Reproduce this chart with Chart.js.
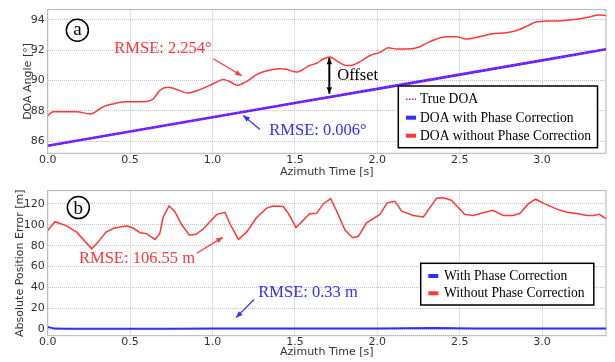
<!DOCTYPE html>
<html>
<head>
<meta charset="utf-8">
<script src="https://cdn.jsdelivr.net/npm/chart.js@4.4.0/dist/chart.umd.min.js"></script>
<style>
body { margin: 0; background: #fff; width: 615px; height: 362px; overflow: hidden; }
canvas { position: absolute; left: 0; }
#doaChart { top: 0; }
#errChart { top: 181px; }
</style>
</head>
<body>
<canvas id="doaChart" width="615" height="181"></canvas>
<canvas id="errChart" width="615" height="181"></canvas>
<script>
// tick values
var xTicks = [0, 0.5, 1.0, 1.5, 2.0, 2.5, 3.0];
var doaTicks = [86, 88, 90, 92, 94];
var errTicks = [0, 20, 40, 60, 80, 100, 120];

// (a) DOA angle
var doaTime = [0, 0.034, 0.176, 0.257, 0.337, 0.42, 0.48, 0.6, 0.64, 0.68,
  0.73, 0.77, 0.85, 0.92, 1.005, 1.066, 1.106, 1.15, 1.21, 1.27,
  1.33, 1.41, 1.45, 1.507, 1.593, 1.632, 1.67, 1.713, 1.754, 1.814,
  1.854, 1.905, 1.956, 2.016, 2.067, 2.117, 2.18, 2.26, 2.3, 2.36,
  2.42, 2.48, 2.54, 2.62, 2.70, 2.785, 2.846, 2.906, 2.967, 3.03,
  3.11, 3.23, 3.29, 3.34, 3.388];
var doaWithout = [87.69, 87.94, 87.94, 87.79, 88.27, 88.52, 88.6, 88.62, 88.78, 89.34,
  89.55, 89.46, 89.18, 89.38, 89.79, 90.06, 89.92, 89.69, 89.96, 90.41,
  90.64, 90.78, 90.74, 90.56, 91.01, 91.14, 91.4, 91.55, 91.3, 90.99,
  91.03, 91.3, 91.65, 91.86, 92.16, 92.08, 92.08, 92.23, 92.47, 92.74,
  92.89, 92.89, 92.74, 92.89, 93.09, 93.15, 93.3, 93.57, 93.88, 93.92,
  93.94, 94.08, 94.19, 94.33, 94.29];
var lineTime = [0, 0.5, 1.0, 1.5, 2.0, 2.5, 3.0, 3.388];
var trueDoa = [85.69, 86.63, 87.57, 88.51, 89.45, 90.39, 91.33, 92.06];
var doaWith = [85.69, 86.63, 87.57, 88.51, 89.45, 90.39, 91.33, 92.06];

// (b) absolute position error
var errTime = [0, 0.044, 0.115, 0.176, 0.267, 0.30, 0.354, 0.40, 0.48, 0.52,
  0.56, 0.6, 0.651, 0.68, 0.70, 0.736, 0.77, 0.81, 0.86, 0.90,
  0.944, 1.026, 1.076, 1.106, 1.157, 1.207, 1.268, 1.329, 1.369, 1.43,
  1.46, 1.507, 1.59, 1.632, 1.672, 1.717, 1.754, 1.804, 1.85, 1.885,
  1.935, 2.016, 2.06, 2.107, 2.148, 2.218, 2.28, 2.36, 2.40, 2.45,
  2.53, 2.58, 2.70, 2.765, 2.825, 2.866, 2.916, 2.96, 3.017, 3.09,
  3.15, 3.22, 3.27, 3.31, 3.347, 3.388];
var errWithout = [94.5, 103, 99, 93, 77, 82.5, 93, 96.7, 99, 96.7,
  92.5, 91.6, 86, 91.6, 107, 118, 113, 101, 90, 91,
  96, 110, 112, 101, 86, 93, 107, 116, 118, 117.5,
  111, 97.5, 110.6, 111, 120, 125, 113, 95, 87.7, 89,
  102, 110, 121, 122.5, 113, 109, 107.5, 125.5, 126, 123.5,
  110, 109, 114, 109, 109, 111, 120, 124.5, 120, 115,
  112, 110.5, 109, 109, 110, 106];
var errWithTime = [0, 0.044, 0.5, 1.0, 1.5, 2.0, 2.35, 2.6, 3.0, 3.388];
var errWith = [2.3, 0.7, 0.6, 0.7, 0.8, 0.7, 1.3, 0.8, 0.8, 0.7];

var RED = '#ff3838';
var BLUE = '#2f2fff';
var MAGENTA = '#ff00ff';
var tickFont = {family: 'DejaVu Sans', size: 11};
var SERIF = '"Liberation Serif", "Times New Roman", serif';

function pts(xs, ys) {
  return xs.map(function (x, i) { return {x: x, y: ys[i]}; });
}

function xAxis(height, padBottom) {
  return {
    type: 'linear', min: 0, max: 3.388,
    afterBuildTicks: function (s) { s.ticks = xTicks.map(function (v) { return {value: v}; }); },
    afterFit: function (s) { s.height = height; },
    ticks: {font: tickFont, color: '#333', padding: 0, maxRotation: 0, autoSkip: false,
      callback: function (v) { return v.toFixed(1); }},
    grid: {color: '#c4c4c4', drawTicks: false},
    border: {display: false, dash: [1, 1]},
    title: {display: true, text: 'Azimuth Time [s]', font: tickFont, color: '#333',
      padding: {top: 0, bottom: padBottom}}
  };
}

function yAxis(min, max, tickVals, label, padLeft) {
  return {
    min: min, max: max,
    afterBuildTicks: function (s) { s.ticks = tickVals.map(function (v) { return {value: v}; }); },
    afterFit: function (s) { s.width = 47.7; },
    ticks: {font: tickFont, color: '#333', padding: 3},
    grid: {color: '#c4c4c4', drawTicks: false},
    border: {display: false, dash: [1, 1]},
    title: {display: true, text: label, font: tickFont, color: '#333',
      padding: {top: padLeft, bottom: 0}}
  };
}

function frame(chart) {
  var a = chart.chartArea, ctx = chart.ctx;
  ctx.save();
  ctx.strokeStyle = '#b4b4b4';
  ctx.lineWidth = 1;
  ctx.strokeRect(a.left, a.top, a.right - a.left, a.bottom - a.top);
  ctx.restore();
}

function label(ctx, str, x, y, color, size) {
  ctx.save();
  ctx.fillStyle = color;
  ctx.font = size + 'px ' + SERIF;
  ctx.textAlign = 'left';
  ctx.textBaseline = 'middle';
  ctx.fillText(str, x, y);
  ctx.restore();
}

function head(ctx, x1, y1, x2, y2, len) {
  var ang = Math.atan2(y2 - y1, x2 - x1);
  ctx.beginPath();
  ctx.moveTo(x2, y2);
  ctx.lineTo(x2 - len * Math.cos(ang - 0.4), y2 - len * Math.sin(ang - 0.4));
  ctx.lineTo(x2 - len * Math.cos(ang + 0.4), y2 - len * Math.sin(ang + 0.4));
  ctx.closePath();
  ctx.fill();
}

function arrow(ctx, x1, y1, x2, y2, color, w, both) {
  ctx.save();
  ctx.strokeStyle = color;
  ctx.fillStyle = color;
  ctx.lineWidth = w;
  ctx.beginPath();
  ctx.moveTo(x1, y1);
  ctx.lineTo(x2, y2);
  ctx.stroke();
  head(ctx, x1, y1, x2, y2, 7);
  if (both) head(ctx, x2, y2, x1, y1, 7);
  ctx.restore();
}

function circled(ctx, cx, cy, ch, drop) {
  ctx.save();
  ctx.strokeStyle = '#000';
  ctx.lineWidth = 1.5;
  ctx.beginPath();
  ctx.arc(cx, cy, 11, 0, Math.PI * 2);
  ctx.stroke();
  ctx.fillStyle = '#000';
  ctx.font = '19px ' + SERIF;
  ctx.textAlign = 'center';
  ctx.textBaseline = 'alphabetic';
  ctx.fillText(ch, cx, cy + drop);
  ctx.restore();
}

function legendBox(ctx, box, items, swX, txtX, rows) {
  ctx.save();
  ctx.fillStyle = '#fff';
  ctx.fillRect(box[0], box[1], box[2] - box[0], box[3] - box[1]);
  ctx.strokeStyle = '#000';
  ctx.lineWidth = 1.5;
  ctx.strokeRect(box[0], box[1], box[2] - box[0], box[3] - box[1]);
  ctx.font = '13.6px ' + SERIF;
  ctx.textBaseline = 'middle';
  items.forEach(function (it, i) {
    var y = rows[i];
    if (it.dotted) {
      ctx.strokeStyle = it.color;
      ctx.lineWidth = 1.5;
      ctx.setLineDash([1.5, 1.5]);
      ctx.beginPath();
      ctx.moveTo(swX, y);
      ctx.lineTo(swX + 10, y);
      ctx.stroke();
      ctx.setLineDash([]);
    } else {
      ctx.fillStyle = it.color;
      ctx.fillRect(swX, y - 2, 10, 4);
    }
    ctx.fillStyle = '#000';
    ctx.fillText(it.text, txtX, y + 0.5);
  });
  ctx.restore();
}

var doaNotes = {
  id: 'doaNotes',
  beforeDatasetsDraw: frame,
  afterDatasetsDraw: function (chart) {
    var ctx = chart.ctx, sx = chart.scales.x, sy = chart.scales.y;
    function X(t) { return sx.getPixelForValue(t); }
    function Y(v) { return sy.getPixelForValue(v); }
    circled(ctx, X(0.18), Y(93.32), 'a', 4.3);
    label(ctx, 'RMSE: 2.254°', X(0.404), Y(92.12), RED, 16.5);
    arrow(ctx, X(1.005), Y(91.44), X(1.177), Y(90.31), RED, 1.2, false);
    label(ctx, 'RMSE: 0.006°', X(1.345), Y(86.66), BLUE, 16.5);
    arrow(ctx, X(1.288), Y(86.77), X(1.187), Y(87.69), BLUE, 1.2, false);
    label(ctx, 'Offset', X(1.757), Y(90.33), '#000', 16.5);
    arrow(ctx, X(1.709), Y(89.13), X(1.709), Y(91.5), '#000', 2, true);
    legendBox(ctx, [398.3, 86, 597.5, 147.7], [
      {text: 'True DOA', color: MAGENTA, dotted: true},
      {text: 'DOA with Phase Correction', color: BLUE},
      {text: 'DOA without Phase Correction', color: RED}
    ], 406, 420, [99.3, 117.7, 135.7]);
  }
};

var errNotes = {
  id: 'errNotes',
  beforeDatasetsDraw: frame,
  afterDatasetsDraw: function (chart) {
    var ctx = chart.ctx, sx = chart.scales.x, sy = chart.scales.y;
    function X(t) { return sx.getPixelForValue(t); }
    function Y(v) { return sy.getPixelForValue(v); }
    circled(ctx, X(0.186), Y(116.5), 'b', 6.5);
    label(ctx, 'RMSE: 106.55 m', X(0.19), Y(67.4), RED, 16.5);
    arrow(ctx, X(0.904), Y(72.8), X(1.062), Y(88), RED, 1.2, false);
    label(ctx, 'RMSE: 0.33 m', X(1.278), Y(35.5), BLUE, 16.5);
    arrow(ctx, X(1.252), Y(28.5), X(1.143), Y(11.2), BLUE, 1.2, false);
    legendBox(ctx, [420.7, 82.3, 593.8, 124], [
      {text: 'With Phase Correction', color: BLUE},
      {text: 'Without Phase Correction', color: RED}
    ], 428.3, 444, [95, 112.3]);
  }
};

new Chart(document.getElementById('doaChart'), {
  type: 'line',
  data: {
    datasets: [
      {label: 'True DOA', data: pts(lineTime, trueDoa), borderColor: MAGENTA,
        borderWidth: 1.5, borderDash: [2, 2], pointRadius: 0, tension: 0},
      {label: 'DOA with Phase Correction', data: pts(lineTime, doaWith), borderColor: BLUE,
        borderWidth: 2.6, pointRadius: 0, tension: 0},
      {label: 'DOA without Phase Correction', data: pts(doaTime, doaWithout), borderColor: RED,
        borderWidth: 1.5, pointRadius: 0, cubicInterpolationMode: 'monotone'}
    ]
  },
  options: {
    responsive: false, animation: false, devicePixelRatio: 1,
    layout: {padding: {left: 0, right: 9, top: 0, bottom: 0}},
    plugins: {legend: {display: false}, tooltip: {enabled: false}},
    scales: {
      x: xAxis(27.7, 2.5),
      y: yAxis(85.196, 94.68, doaTicks, 'DOA Angle [°]', 21.5)
    }
  },
  plugins: [doaNotes]
});

new Chart(document.getElementById('errChart'), {
  type: 'line',
  data: {
    datasets: [
      {label: 'With Phase Correction', data: pts(errWithTime, errWith), borderColor: BLUE,
        borderWidth: 2, pointRadius: 0, tension: 0.2},
      {label: 'Without Phase Correction', data: pts(errTime, errWithout), borderColor: RED,
        borderWidth: 1.5, pointRadius: 0, tension: 0}
    ]
  },
  options: {
    responsive: false, animation: false, devicePixelRatio: 1,
    layout: {padding: {left: 0, right: 9, top: 2.3, bottom: 0}},
    plugins: {legend: {display: false}, tooltip: {enabled: false}},
    scales: {
      x: xAxis(26.3, 3.7),
      y: yAxis(-6.1, 132.76, errTicks, 'Absolute Position Error [m]', 14)
    }
  },
  plugins: [errNotes]
});
</script>
</body>
</html>
